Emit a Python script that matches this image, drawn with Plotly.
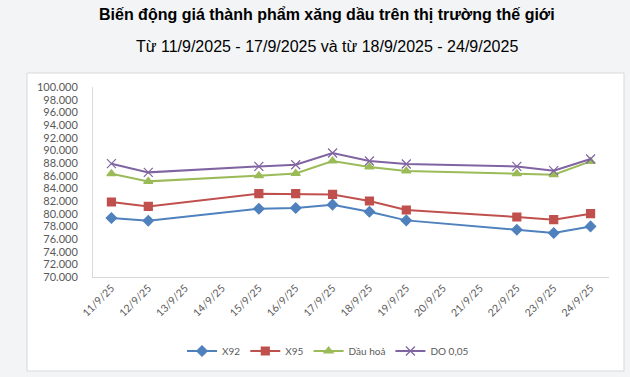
import plotly.graph_objects as go

dates = ["11/9/25", "12/9/25", "13/9/25", "14/9/25", "15/9/25", "16/9/25", "17/9/25",
         "18/9/25", "19/9/25", "20/9/25", "21/9/25", "22/9/25", "23/9/25", "24/9/25"]
x92 = [79320, 78890, None, None, 80780, 80900, 81420, 80310, 78940, None, None, 77470, 76950, 77990]
x95 = [81840, 81150, None, None, 83150, 83150, 83040, 82000, 80580, None, None, 79470, 79050, 80000]
dau_hoa = [86310, 85100, None, None, 86000, 86360, 88320, 87370, 86740, None, None, 86310, 86150, 88250]
do005 = [87890, 86520, None, None, 87460, 87730, 89580, 88320, 87840, None, None, 87460, 86790, 88630]

series = [
    ("X92", x92, "#4F81BD", "diamond"),
    ("X95", x95, "#C0504D", "square"),
    ("Dầu hoả", dau_hoa, "#9BBB59", "triangle-up"),
    ("DO 0,05", do005, "#8064A2", "x-thin-open"),
]

fig = go.Figure()
for name, vals, color, sym in series:
    fig.add_trace(go.Scatter(
        x=dates, y=vals, name=name, mode="lines+markers", connectgaps=True,
        line=dict(color=color, width=2),
        marker=dict(symbol=sym, size=8 if sym != "x-thin-open" else 9, color=color,
                    line=dict(color=color, width=1.2)),
    ))

L, R, T, B = 93, 609, 87, 277
W, H = 630, 377
pw, ph = R - L, B - T

def px_x(p):
    return (p - L) / pw

def px_y(p):
    return (B - p) / ph

fig.update_layout(
    width=W, height=H,
    margin=dict(l=L, r=W - R, t=T, b=H - B, autoexpand=False),
    paper_bgcolor="#F3F4F6",
    plot_bgcolor="white",
    separators=",.",
    font=dict(family="Lato, Liberation Sans, sans-serif", color="#595959", size=10),
    showlegend=True,
    legend=dict(orientation="h", x=px_x(328), xanchor="center", y=px_y(351), yanchor="middle",
                font=dict(size=10, color="#595959"), bgcolor="rgba(0,0,0,0)",
                itemwidth=30, tracegroupgap=0),
    xaxis=dict(type="category", categoryorder="array", categoryarray=dates,
               range=[-0.5, 13.5], tickangle=-45, showgrid=False, zeroline=False,
               showline=True, linecolor="#D9D9D9", linewidth=1, ticks="", automargin=False,
               tickfont=dict(size=10.5, color="#595959")),
    yaxis=dict(range=[70000, 100000], dtick=2000, tick0=70000, tickformat=",d",
               showgrid=False, zeroline=False, showline=True, linecolor="#D9D9D9",
               linewidth=1, ticks="", ticklabelstandoff=12, automargin=False,
               tickfont=dict(size=11, color="#595959")),
    shapes=[dict(type="rect", xref="paper", yref="paper", layer="below",
                 x0=px_x(27), x1=px_x(624), y0=px_y(371), y1=px_y(73),
                 fillcolor="white", line=dict(color="#D9D9D9", width=1))],
    annotations=[
        dict(text="<b>Biến động giá thành phẩm xăng dầu trên thị trường thế giới</b>",
             xref="paper", yref="paper", x=px_x(327), y=px_y(15), xanchor="center",
             yanchor="middle", showarrow=False,
             font=dict(family="Liberation Sans, Arial, sans-serif", size=16, color="#000000")),
        dict(text="Từ 11/9/2025 - 17/9/2025 và từ 18/9/2025 - 24/9/2025",
             xref="paper", yref="paper", x=px_x(327), y=px_y(46), xanchor="center",
             yanchor="middle", showarrow=False,
             font=dict(family="Liberation Sans, Arial, sans-serif", size=16, color="#000000")),
    ],
)

fig.write_html("out.html", config={"displayModeBar": False},
               post_script="document.body.style.margin='0';document.body.style.background='#F3F4F6';")
